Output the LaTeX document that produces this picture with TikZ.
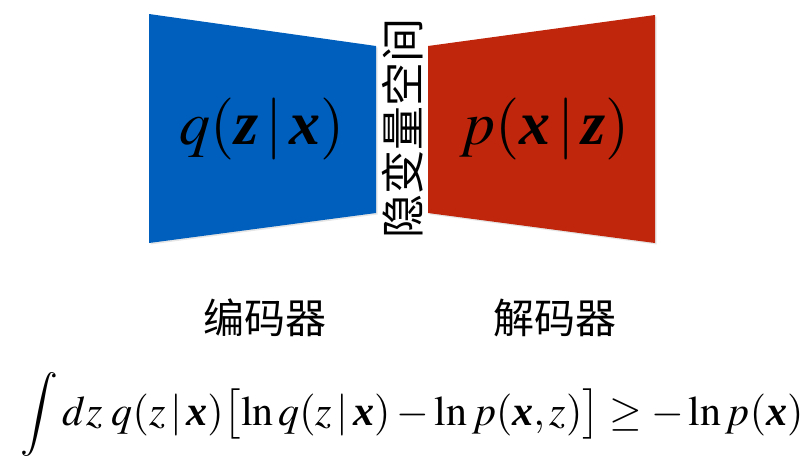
\documentclass[tikz,border=0pt]{standalone}
\usepackage{amsmath}
\usepackage{mathptmx}
\usepackage{fontspec}
\setmainfont{Liberation Serif}
\newfontfamily\cjk{Noto Sans CJK SC}
\usetikzlibrary{positioning, shadows}

\definecolor{encblue}{RGB}{0,95,189}
\definecolor{decred}{RGB}{192,38,12}
\newcommand{\bvx}{\text{\bfseries\itshape x}}
\newcommand{\bvz}{\text{\bfseries\itshape z}}

\begin{document}
\begin{tikzpicture}[
        x=1pt, y=-1pt,
        funnel/.style={draw=none, drop shadow={opacity=0.2, shadow xshift=1.5pt, shadow yshift=-1.5pt}},
        dist/.style={inner sep=0pt, font=\fontsize{62}{66}\selectfont},
        cjklabel/.style={inner sep=0pt, font=\cjk\fontsize{41}{44}\selectfont},
        formula/.style={inner sep=0pt, font=\fontsize{42}{45}\selectfont}
    ]
        \useasboundingbox (0,0) rectangle (810,461);

        % encoder and decoder
        \fill [encblue, funnel] (149,14) -- (376,46) -- (376,213) -- (149,243) -- cycle;
        \fill [decred, funnel] (428,46) -- (655,15) -- (655,243) -- (428,213) -- cycle;

        \node [dist] (encoder) at (262,129) {$q(\bvz\,|\,\bvx)$};
        \node [dist] (decoder) at (545,129) {$p(\bvx\,|\,\bvz)$};
        \node [cjklabel, rotate=90, font=\cjk\fontsize{44}{46}\selectfont] (latent) at (403,128) {隐变量空间};

        \node [cjklabel] (enclabel) at (265,318) {编码器};
        \node [cjklabel] (declabel) at (555,318) {解码器};

        \node [formula, anchor=base] (elbo) at (412,425) {$\displaystyle\int dz\;q(z\,|\,\bvx)\bigl[\ln q(z\,|\,\bvx)-\ln p(\bvx,z)\bigr]\geq-\ln p(\bvx)$};
    \end{tikzpicture}
\end{document}
